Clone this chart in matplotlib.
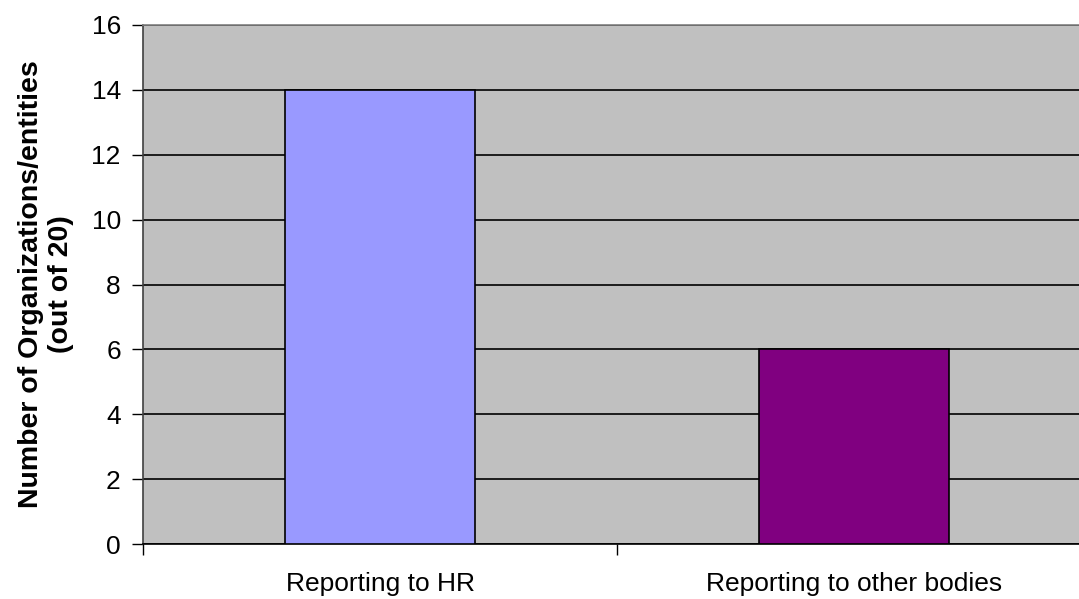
import numpy as np
import matplotlib.pyplot as plt

categories = ['Reporting to HR', 'Reporting to other bodies']
counts = [14, 6]
bar_colors = ['#9999FF', '#800080']
y_ticks = [0, 2, 4, 6, 8, 10, 12, 14, 16]

plt.rcParams['font.family'] = ['Liberation Sans', 'DejaVu Sans']

fig = plt.figure(figsize=(10.79, 5.99), dpi=100)
# plot area runs a bit past the right edge, as in the original
ax = fig.add_axes([143 / 1079, 55 / 599, 948 / 1079, 519 / 599])
ax.set_facecolor('#C0C0C0')

x = np.arange(len(categories))
ax.bar(x, counts, width=0.4, color=bar_colors, edgecolor='black', linewidth=1.2, zorder=3)

ax.set_xlim(-0.5, len(categories) - 0.5)
ax.set_ylim(0, 16)
ax.set_yticks(y_ticks)
ax.yaxis.grid(True, color='black', linewidth=1.2, zorder=1)
ax.set_axisbelow(True)

# category labels centred under bars, tick marks on the slot borders
ax.set_xticks(x)
ax.set_xticklabels(categories, fontsize=19)
ax.tick_params(axis='x', length=0, pad=20)
ax.set_xticks(np.arange(len(categories) + 1) - 0.5, minor=True)
ax.tick_params(axis='x', which='minor', length=8, width=1, color='black')
ax.tick_params(axis='y', labelsize=19, length=8, width=1, pad=8)

ax.spines['top'].set_color('#808080')
ax.spines['right'].set_visible(False)
ax.spines['left'].set_color('#404040')
ax.spines['bottom'].set_color('black')
for s in ax.spines.values():
    s.set_linewidth(1.2)

ax.set_ylabel('Number of Organizations/entities\n(out of 20)', fontsize=20.5,
              fontweight='bold', linespacing=1.2)
ax.yaxis.set_label_coords(-0.073, 0.5)

fig.savefig('out.png', dpi=100)
